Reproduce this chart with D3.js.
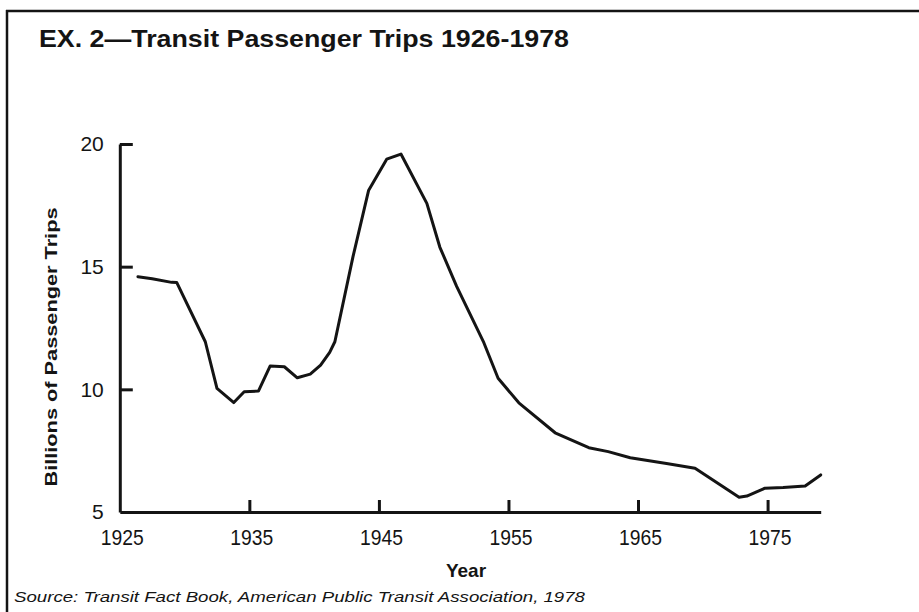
<!DOCTYPE html>
<html>
<head>
<meta charset="utf-8">
<script src="https://cdn.jsdelivr.net/npm/d3@7/dist/d3.min.js"></script>
<style>
  html, body { margin: 0; padding: 0; background: #fff; }
  svg { display: block; }
</style>
</head>
<body>
<script>
// ---- data ----
const years = [1926.4, 1927.5, 1929.0, 1929.4, 1931.6, 1932.5, 1933.8, 1934.6, 1935.7, 1936.6,
               1937.7, 1938.7, 1939.7, 1940.5, 1941.2, 1941.6, 1943.0, 1944.2, 1945.6, 1946.7,
               1948.7, 1949.7, 1951.0, 1953.1, 1954.2, 1955.8, 1958.6, 1961.2, 1962.7, 1964.4,
               1967.2, 1969.4, 1972.8, 1973.4, 1974.8, 1976.2, 1977.9, 1979.1];
const trips = [14.59, 14.51, 14.36, 14.35, 11.94, 10.04, 9.46, 9.90, 9.93, 10.95,
               10.92, 10.47, 10.62, 10.99, 11.51, 11.94, 15.41, 18.10, 19.38, 19.59,
               17.58, 15.80, 14.20, 11.90, 10.45, 9.45, 8.23, 7.62, 7.46, 7.21,
               6.98, 6.78, 5.60, 5.65, 5.97, 6.00, 6.06, 6.51];
const xTicks = [1925, 1935, 1945, 1955, 1965, 1975];
const yTicks = [5, 10, 15, 20];
const titleText = "EX. 2\u2014Transit Passenger Trips 1926-1978";
const yLabelText = "Billions of Passenger Trips";
const xLabelText = "Year";
const sourceText = "Source: Transit Fact Book, American Public Transit Association, 1978";

// ---- layout ----
const W = 919, H = 612;
const svg = d3.select("body").append("svg").attr("width", W).attr("height", H);
svg.append("rect").attr("width", W).attr("height", H).attr("fill", "#fff");

const x = d3.scaleLinear().domain([1925, 1979.1]).range([119.8, 820.7]);
const y = d3.scaleLinear().domain([5, 20]).range([512, 144]);

const ink = "#141414";
const font = "'Liberation Sans', Arial, Helvetica, sans-serif";

// page frame (scan border)
svg.append("line").attr("x1", 6).attr("x2", W).attr("y1", 11).attr("y2", 11)
  .attr("stroke", ink).attr("stroke-width", 2.5);
svg.append("line").attr("x1", 7).attr("x2", 7).attr("y1", 10).attr("y2", H)
  .attr("stroke", ink).attr("stroke-width", 2.5);

// title
svg.append("text").attr("x", 39).attr("y", 47)
  .attr("font-family", font).attr("font-weight", "bold").attr("font-size", 24)
  .attr("fill", ink).attr("textLength", 530).attr("lengthAdjust", "spacingAndGlyphs")
  .text(titleText);

// x axis
const gx = svg.append("g").attr("transform", `translate(0,${y(5)})`)
  .call(d3.axisBottom(x).tickValues(xTicks).tickFormat(d3.format("d"))
        .tickSizeInner(-12).tickSizeOuter(0).tickPadding(17));
gx.attr("font-family", null);
gx.select(".domain").attr("stroke", ink).attr("stroke-width", 3);
gx.selectAll(".tick line").attr("stroke", ink).attr("stroke-width", 3)
  .filter(d => d === 1925).remove();
gx.selectAll(".tick text").attr("font-family", font).attr("font-size", 22).attr("fill", ink)
  .attr("dx", 2)
  .attr("textLength", 43).attr("lengthAdjust", "spacingAndGlyphs");

// y axis
const gy = svg.append("g").attr("transform", `translate(${x(1925)},0)`)
  .call(d3.axisLeft(y).tickValues(yTicks).tickFormat(d3.format("d"))
        .tickSizeInner(-13).tickSizeOuter(0).tickPadding(16));
gy.attr("font-family", null);
gy.select(".domain").attr("stroke", ink).attr("stroke-width", 3);
gy.selectAll(".tick line").attr("stroke", ink).attr("stroke-width", 3)
  .filter(d => d === 5).remove();
gy.selectAll(".tick text").attr("font-family", font).attr("font-size", 21).attr("fill", ink);

// axis titles
svg.append("text").attr("transform", "translate(57,347) rotate(-90)")
  .attr("text-anchor", "middle")
  .attr("font-family", font).attr("font-weight", "bold").attr("font-size", 17)
  .attr("fill", ink).attr("textLength", 279).attr("lengthAdjust", "spacingAndGlyphs")
  .text(yLabelText);

svg.append("text").attr("x", 466).attr("y", 577).attr("text-anchor", "middle")
  .attr("font-family", font).attr("font-weight", "bold").attr("font-size", 19)
  .attr("fill", ink).text(xLabelText);

// source
svg.append("text").attr("x", 14).attr("y", 602)
  .attr("font-family", font).attr("font-style", "italic").attr("font-size", 15)
  .attr("fill", ink).attr("textLength", 571).attr("lengthAdjust", "spacingAndGlyphs")
  .text(sourceText);

// data line
const pts = years.map((yr, i) => [yr, trips[i]]);
svg.append("path").datum(pts)
  .attr("fill", "none").attr("stroke", ink).attr("stroke-width", 3)
  .attr("stroke-linejoin", "round").attr("stroke-linecap", "round")
  .attr("d", d3.line().x(d => x(d[0])).y(d => y(d[1])));
</script>
</body>
</html>
